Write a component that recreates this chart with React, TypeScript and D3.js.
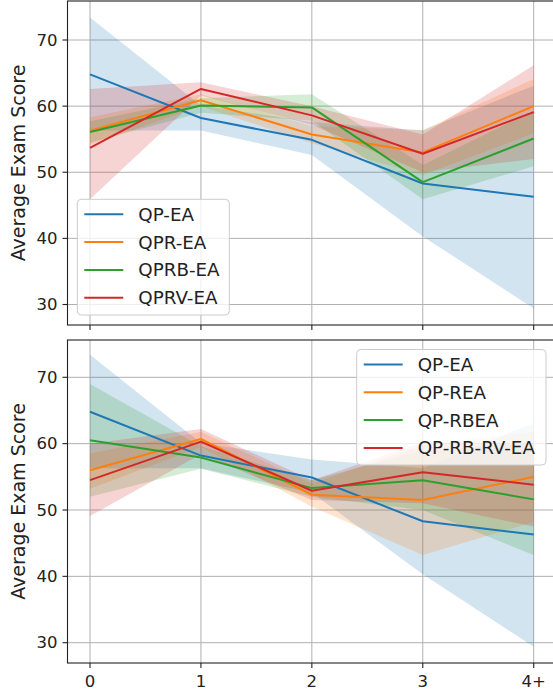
import React from "react";
import * as d3 from "d3";

const categories = ["0", "1", "2", "3", "4+"];
const yTicks = [30, 40, 50, 60, 70];

// Top panel
const topNames = ["QP-EA", "QPR-EA", "QPRB-EA", "QPRV-EA"];
const qpEA = [64.8, 58.2, 54.9, 48.3, 46.3];
const qpEALo = [56.3, 56.3, 52.6, 40.3, 29.4];
const qpEAHi = [73.4, 60.1, 57.6, 56.3, 63.1];
const qprEA = [56.3, 60.9, 55.7, 53.0, 60.0];
const qprEALo = [54.2, 60.0, 54.4, 49.6, 55.9];
const qprEAHi = [58.3, 61.8, 57.0, 56.4, 64.1];
const qprbEA = [56.1, 60.1, 59.8, 48.5, 55.1];
const qprbEALo = [54.5, 59.0, 57.8, 45.9, 50.9];
const qprbEAHi = [57.7, 61.2, 61.8, 51.1, 59.3];
const qprvEA = [53.7, 62.6, 58.6, 52.8, 59.1];
const qprvEALo = [45.9, 61.6, 57.2, 50.0, 52.0];
const qprvEAHi = [62.6, 63.6, 60.0, 55.7, 66.2];

// Bottom panel
const bottomNames = ["QP-EA", "QP-REA", "QP-RBEA", "QP-RB-RV-EA"];
const qpREA = [56.0, 60.7, 52.3, 51.5, 55.0];
const qpREALo = [53.2, 59.5, 50.5, 43.2, 48.2];
const qpREAHi = [58.5, 61.8, 54.0, 59.8, 61.8];
const qpRBEA = [60.5, 57.9, 53.3, 54.5, 51.6];
const qpRBEALo = [52.0, 56.2, 52.0, 50.0, 43.2];
const qpRBEAHi = [69.0, 59.6, 54.5, 59.0, 60.0];
const qpRBRVEA = [54.5, 60.3, 52.9, 55.7, 53.8];
const qpRBRVEALo = [49.1, 58.4, 51.5, 51.0, 47.5];
const qpRBRVEAHi = [60.0, 62.2, 54.5, 60.2, 59.9];

const colors = ["#1f77b4", "#ff7f0e", "#2ca02c", "#d62728"];

type Series = { name: string; mean: number[]; lo: number[]; hi: number[] };

const topSeries: Series[] = [
  { name: topNames[0], mean: qpEA, lo: qpEALo, hi: qpEAHi },
  { name: topNames[1], mean: qprEA, lo: qprEALo, hi: qprEAHi },
  { name: topNames[2], mean: qprbEA, lo: qprbEALo, hi: qprbEAHi },
  { name: topNames[3], mean: qprvEA, lo: qprvEALo, hi: qprvEAHi },
];
const bottomSeries: Series[] = [
  { name: bottomNames[0], mean: qpEA, lo: qpEALo, hi: qpEAHi },
  { name: bottomNames[1], mean: qpREA, lo: qpREALo, hi: qpREAHi },
  { name: bottomNames[2], mean: qpRBEA, lo: qpRBEALo, hi: qpRBEAHi },
  { name: bottomNames[3], mean: qpRBRVEA, lo: qpRBRVEALo, hi: qpRBRVEAHi },
];

const W = 553;
const H = 693;
const FONT = "DejaVu Sans, sans-serif";

const xLeft = 67.5;
const xRight = 556;
const x = d3.scaleLinear().domain([0, 4]).range([90, 533.7]);

type PanelProps = {
  series: Series[];
  top: number;
  bottom: number;
  y70: number;
  y30: number;
  legend: { x: number; y: number; w: number; h: number };
  showXLabels: boolean;
};

function Panel({ series, top, bottom, y70, y30, legend, showXLabels }: PanelProps) {
  const y = d3.scaleLinear().domain([30, 70]).range([y30, y70]);
  const idx = categories.map((_, i) => i);
  const area = (s: Series) =>
    d3
      .area<number>()
      .x((i) => x(i))
      .y0((i) => y(s.lo[i]))
      .y1((i) => y(s.hi[i]))(idx) || "";
  const line = (s: Series) =>
    d3
      .line<number>()
      .x((i) => x(i))
      .y((i) => y(s.mean[i]))(idx) || "";
  const clipId = `clip-${top}`;
  const rowH = 27.8;
  return (
    <g>
      <defs>
        <clipPath id={clipId}>
          <rect x={xLeft} y={top} width={xRight - xLeft} height={bottom - top} />
        </clipPath>
      </defs>
      <rect x={xLeft} y={top} width={xRight - xLeft} height={bottom - top} fill="white" />
      {yTicks.map((t) => (
        <line key={"gy" + t} x1={xLeft} x2={xRight} y1={y(t)} y2={y(t)} stroke="#b0b0b0" strokeWidth={1} />
      ))}
      {idx.map((i) => (
        <line key={"gx" + i} x1={x(i)} x2={x(i)} y1={top} y2={bottom} stroke="#b0b0b0" strokeWidth={1} />
      ))}
      <g clipPath={`url(#${clipId})`}>
        {series.map((s, k) => (
          <path key={"a" + k} d={area(s)} fill={colors[k]} fillOpacity={0.2} stroke="none" />
        ))}
        {series.map((s, k) => (
          <path key={"l" + k} d={line(s)} fill="none" stroke={colors[k]} strokeWidth={2} strokeLinejoin="round" />
        ))}
      </g>
      <rect x={xLeft} y={top} width={xRight - xLeft} height={bottom - top} fill="none" stroke="#222" strokeWidth={1.1} />
      {yTicks.map((t) => (
        <g key={"ty" + t}>
          <line x1={xLeft - 5} x2={xLeft} y1={y(t)} y2={y(t)} stroke="#222" strokeWidth={1.1} />
          <text x={xLeft - 10} y={y(t)} textAnchor="end" dominantBaseline="central" fontSize={16.5} fontFamily={FONT} fill="#222">
            {t}
          </text>
        </g>
      ))}
      {idx.map((i) => (
        <g key={"tx" + i}>
          <line x1={x(i)} x2={x(i)} y1={bottom} y2={bottom + 5} stroke="#222" strokeWidth={1.1} />
          {showXLabels && (
            <text x={x(i)} y={bottom + 24} textAnchor="middle" fontSize={16.5} fontFamily={FONT} fill="#222">
              {categories[i]}
            </text>
          )}
        </g>
      ))}
      <text
        transform={`translate(25,${(top + bottom) / 2}) rotate(-90)`}
        textAnchor="middle"
        fontSize={19}
        fontFamily={FONT}
        fill="#222"
      >
        Average Exam Score
      </text>
      <rect
        x={legend.x}
        y={legend.y}
        width={legend.w}
        height={legend.h}
        rx={4}
        fill="white"
        fillOpacity={0.8}
        stroke="#cccccc"
        strokeWidth={1}
      />
      {series.map((s, k) => {
        const ry = legend.y + 15 + k * rowH;
        return (
          <g key={"lg" + k}>
            <line x1={legend.x + 7} x2={legend.x + 46} y1={ry} y2={ry} stroke={colors[k]} strokeWidth={2} />
            <text x={legend.x + 61} y={ry} dominantBaseline="central" fontSize={18.3} fontFamily={FONT} fill="#222">
              {s.name}
            </text>
          </g>
        );
      })}
    </g>
  );
}

export default function App() {
  return (
    <svg width={W} height={H} style={{ display: "block", position: "absolute", left: 0, top: 0 }}>
      <rect width={W} height={H} fill="white" />
      <Panel
        series={topSeries}
        top={1}
        bottom={325}
        y70={40}
        y30={304.5}
        legend={{ x: 77.3, y: 199.3, w: 152, h: 115.7 }}
        showXLabels={false}
      />
      <Panel
        series={bottomSeries}
        top={340}
        bottom={663}
        y70={377.3}
        y30={642.7}
        legend={{ x: 356.7, y: 349.5, w: 189.3, h: 115.5 }}
        showXLabels={true}
      />
    </svg>
  );
}
